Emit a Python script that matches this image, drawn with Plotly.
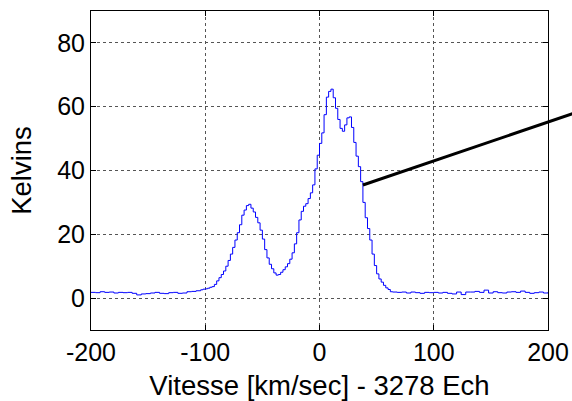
import plotly.graph_objects as go

# Radial velocity (km/s) and antenna temperature (K) of the HI spectrum
velocity = [
    -200, -196, -192, -188, -184, -180, -176, -172, -168, -164,
    -160, -156, -152, -148, -144, -140, -136, -132, -128, -124,
    -120, -116, -112, -108, -104, -102, -100, -98, -96, -94,
    -92, -90, -88, -86, -84, -82, -80, -78, -76, -74,
    -72, -70, -68, -66, -64, -62, -60, -58, -56, -54,
    -52, -50, -48, -46, -44, -42, -40, -38, -36, -34,
    -32, -30, -28, -26, -24, -22, -20, -18, -16, -14,
    -12, -10, -8, -6, -4, -2, 0, 2, 4, 6,
    8, 10, 12, 14, 16, 18, 20, 22, 24, 26,
    28, 30, 32, 34, 36, 38, 40, 42, 44, 46,
    48, 50, 52, 54, 56, 58, 60, 62, 64, 68,
    72, 76, 80, 84, 88, 92, 96, 100, 104, 108,
    112, 116, 120, 124, 128, 132, 136, 140, 144, 148,
    152, 156, 160, 164, 168, 172, 176, 180, 184, 188,
    192, 196, 200,
]
kelvins = [
    1.8, 1.7, 2.0, 1.8, 1.9, 1.6, 1.8, 1.7, 1.8, 1.5,
    1.0, 1.3, 1.4, 1.6, 1.8, 1.5, 1.4, 1.7, 1.8, 1.5,
    1.6, 2.0, 2.1, 2.3, 2.6, 2.8, 2.9, 3.1, 3.4, 3.6,
    4.3, 5.4, 6.4, 7.4, 8.5, 10.0, 11.8, 13.8, 15.9, 18.2,
    20.5, 23.0, 26.0, 27.6, 29.0, 29.4, 28.2, 27.0, 25.3, 23.6,
    21.3, 18.5, 15.2, 12.6, 10.6, 9.2, 7.9, 7.2, 7.4, 8.1,
    8.9, 9.8, 10.8, 12.2, 14.2, 17.0, 20.5, 24.5, 27.2, 28.8,
    29.6, 31.2, 33.0, 35.5, 40.5, 44.8, 48.5, 51.8, 57.5, 63.0,
    64.8, 65.5, 62.8, 59.5, 56.0, 53.2, 52.3, 54.3, 56.5, 56.8,
    53.5, 48.8, 44.5, 41.2, 36.5, 30.0, 25.2, 21.8, 18.2, 13.8,
    10.2, 7.6, 6.0, 5.0, 4.0, 3.2, 2.7, 2.0, 1.9, 1.8,
    1.9, 1.6, 1.9, 1.7, 1.5, 1.8, 1.7, 1.8, 1.6, 1.8,
    1.5, 1.3, 1.9, 1.1, 1.9, 1.9, 2.1, 1.8, 2.5, 1.6,
    2.0, 1.7, 1.6, 1.9, 2.0, 1.8, 2.2, 1.8, 1.5, 1.7,
    1.9, 1.6, 1.8,
]

x_ticks = [-200, -100, 0, 100, 200]
x_labels = ["-200", "-100", "0", "100", "200"]
y_ticks = [0, 20, 40, 60, 80]
y_labels = ["0", "20", "40", "60", "80"]

font_family = "Arial, Liberation Sans, sans-serif"
tick_size = 25
label_size = 27.5

fig = go.Figure()
fig.add_trace(go.Scatter(
    x=velocity, y=kelvins, mode="lines",
    line=dict(color="#0000ff", width=1, shape="hv"),
    showlegend=False, hoverinfo="skip",
))

# Pointer line running out of the frame to the right
fig.add_shape(
    type="line", xref="paper", yref="paper",
    x0=0.595, y0=0.4545, x1=1.06, y1=0.681,
    line=dict(color="black", width=3),
)

axis_common = dict(
    showline=True, linecolor="black", linewidth=1, mirror="allticks",
    ticks="inside", ticklen=5, tickcolor="black", tickwidth=1,
    showgrid=True, gridcolor="#555555", gridwidth=1, griddash="dot",
    zeroline=False, automargin=False,
    tickfont=dict(family=font_family, size=tick_size, color="black"),
)

fig.update_xaxes(
    range=[-200, 200], tickvals=x_ticks, ticktext=x_labels,
    title=dict(text="Vitesse [km/sec] - 3278 Ech",
               font=dict(family=font_family, size=label_size, color="black"),
               standoff=10),
    **axis_common,
)
fig.update_yaxes(
    range=[-10, 90], tickvals=y_ticks, ticktext=y_labels,
    title=dict(text="Kelvins",
               font=dict(family=font_family, size=label_size, color="black"),
               standoff=17),
    **axis_common,
)

fig.update_layout(
    width=572, height=401,
    margin=dict(l=91, r=24, t=11, b=71),
    paper_bgcolor="white", plot_bgcolor="white",
)

fig.write_html("out.html")
